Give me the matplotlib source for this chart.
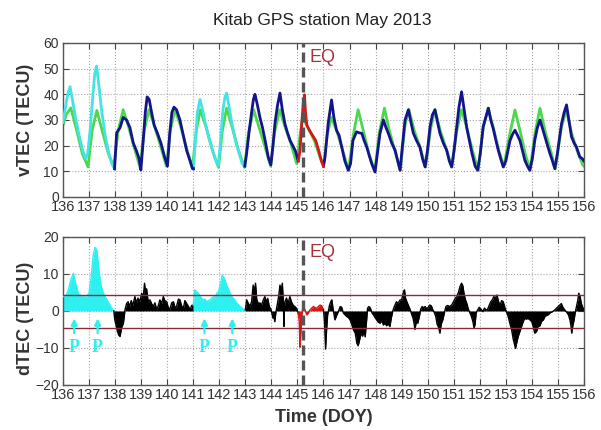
import matplotlib
matplotlib.use("Agg")
import matplotlib.pyplot as plt
import numpy as np

plt.rcParams['font.family'] = ['Liberation Sans', 'DejaVu Sans']

title = "Kitab GPS station May 2013"
days = list(range(136, 157))
eq_day = 145.22

# ---------------- vTEC (top) ----------------
cyan1_t = [136.00, 136.08, 136.18, 136.27, 136.36, 136.48, 136.62, 136.76, 136.87, 136.95, 137.05, 137.15, 137.22, 137.29, 137.36, 137.48, 137.62, 137.76, 137.88, 137.98]
cyan1_v = [29, 34, 40, 43, 38, 31, 24, 18, 15, 17, 27, 40, 48, 51, 45, 34, 24, 17, 13, 11]

blue1_t = [137.98, 138.06, 138.19, 138.31, 138.44, 138.57, 138.70, 138.82, 138.92, 138.99, 139.08, 139.16, 139.23, 139.31, 139.40, 139.50, 139.62, 139.76, 139.89, 140.01, 140.10, 140.18, 140.26, 140.36, 140.49, 140.62, 140.75, 140.88, 140.97, 141.01]
blue1_v = [11, 25, 27, 31, 30, 27, 21, 18, 15, 10.5, 22, 33, 39, 38, 33, 28, 25, 21, 16, 12, 25, 33, 35, 34, 30, 24, 18, 14, 11, 11]

cyan2_t = [141.01, 141.08, 141.16, 141.26, 141.36, 141.48, 141.60, 141.72, 141.84, 141.96, 142.05, 142.14, 142.22, 142.28, 142.36, 142.48, 142.62, 142.76, 142.88, 142.98]
cyan2_v = [11, 22, 33, 38, 34, 28, 23, 19, 15, 12, 22, 34, 39, 40.5, 36, 29, 22, 17, 13, 12]

blue2_t = [142.98, 143.05, 143.14, 143.24, 143.31, 143.37, 143.46, 143.56, 143.66, 143.76, 143.88, 143.98, 144.06, 144.14, 144.24, 144.33, 144.42, 144.52, 144.62, 144.72, 144.82, 144.92, 145.03]
blue2_v = [12, 17, 25, 33, 38, 40, 36, 31, 27, 22, 15.5, 12.5, 20, 29, 36, 40.5, 34, 28.5, 25, 22, 20, 18, 14]

red_t = [145.03, 145.10, 145.16, 145.22, 145.27, 145.31, 145.36, 145.46, 145.58, 145.70, 145.82, 145.92, 146.0]
red_v = [14, 18, 28, 36, 39.8, 33, 28, 26, 24, 22, 18, 14, 12]

blue3_t = [146.0, 146.06, 146.18, 146.31, 146.40, 146.50, 146.60, 146.70, 146.82, 146.95,
           147.04, 147.13, 147.27, 147.37, 147.47, 147.56, 147.66, 147.76, 147.85, 147.98,
           148.07, 148.17, 148.30, 148.40, 148.49, 148.62, 148.75, 148.85, 148.94,
           149.03, 149.13, 149.26, 149.36, 149.45, 149.57, 149.70, 149.80, 149.90,
           149.99, 150.09, 150.18, 150.28, 150.38, 150.47, 150.60, 150.73, 150.83, 150.92,
           151.01, 151.11, 151.20, 151.30, 151.40, 151.50, 151.60, 151.70, 151.82, 151.92,
           152.02, 152.13, 152.23, 152.33, 152.42, 152.52, 152.62, 152.71, 152.80, 152.90,
           153.00, 153.16, 153.26, 153.35, 153.45, 153.54, 153.64, 153.73, 153.83, 153.92,
           154.02, 154.11, 154.21, 154.31, 154.40, 154.50, 154.60, 154.69, 154.79, 154.88,
           154.98, 155.06, 155.14, 155.24, 155.33, 155.42, 155.52, 155.62, 155.71, 155.84, 155.93, 156.0]
blue3_v = [12, 15.6, 28.7, 37.8, 31, 26, 24, 19.5, 14, 10.4,
           13, 22, 25.4, 25, 24.8, 22, 19.5, 16, 13, 9.7,
           17, 24.8, 30, 27, 24.8, 21, 18.2, 14, 10.4,
           20, 30, 34, 29, 24.8, 22, 19.5, 15, 11.7,
           18, 27.4, 32, 34, 29, 24.8, 21, 18.2, 14, 11.7,
           18, 27, 35, 41, 34, 27, 22, 17, 12, 10.4,
           17, 27.4, 31, 34.6, 30, 26.5, 22, 18.2, 15, 11.7,
           14, 22, 24.5, 26, 24, 22, 18, 14.3, 12, 10.4,
           15, 22, 27, 30, 27, 23.5, 20, 17, 14, 11,
           17, 23, 28.7, 33, 35.9, 30, 23.5, 21, 19.5, 15.6, 15, 14]

green_t = [136.00, 136.12, 136.30, 136.50, 136.74, 136.96,
           137.12, 137.30, 137.50, 137.74, 137.95,
           138.12, 138.31, 138.50, 138.74, 138.96,
           139.12, 139.30, 139.50, 139.74, 139.97,
           140.12, 140.30, 140.50, 140.74, 140.97,
           141.12, 141.27, 141.50, 141.74, 141.97,
           142.12, 142.28, 142.50, 142.74, 142.97,
           143.12, 143.32, 143.50, 143.74, 143.97,
           144.12, 144.32, 144.50, 144.74, 144.97,
           145.10, 145.20, 145.40, 145.65, 145.85, 146.00,
           146.14, 146.30, 146.50, 146.74, 146.96,
           147.14, 147.33, 147.50, 147.74, 147.97,
           148.14, 148.34, 148.50, 148.74, 148.95,
           149.13, 149.28, 149.48, 149.72, 149.92,
           150.12, 150.28, 150.48, 150.72, 150.93,
           151.12, 151.30, 151.50, 151.72, 151.94,
           152.13, 152.32, 152.52, 152.72, 152.92,
           153.14, 153.35, 153.54, 153.74, 153.93,
           154.12, 154.31, 154.50, 154.72, 154.90,
           155.13, 155.32, 155.52, 155.74, 155.95, 156.00]
green_v = [28, 32, 34.7, 27, 17, 11.7,
           26, 33.7, 26, 17, 11.7,
           26, 34, 28, 19, 11.5,
           26, 34, 28, 20, 12,
           26, 34, 28, 19, 11.5,
           26, 34, 27, 18, 11.5,
           26, 34.6, 27, 18, 11.5,
           25, 34, 28, 20, 12,
           25, 34, 28, 21, 13,
           24, 31, 27, 22, 16, 12,
           24, 31, 26, 18, 10.5,
           24, 34, 27, 17, 10,
           25, 34.6, 27, 18, 10.5,
           28, 34, 26, 19, 11.7,
           27, 34, 26, 18.5, 11.7,
           26, 34, 27, 18, 10.5,
           27, 34.6, 27, 18.5, 11.7,
           24, 33.9, 26, 17, 10.5,
           25, 34.6, 26, 18, 11,
           27, 34, 25, 18, 12.5, 12]

# ---------------- dTEC (bottom) ----------------
dcyan1_t = [136.00, 136.1, 136.2, 136.3, 136.4, 136.5, 136.6, 136.7, 136.8, 136.9, 137.0, 137.08, 137.16, 137.23, 137.30, 137.38, 137.46, 137.55, 137.65, 137.75, 137.85, 137.95]
dcyan1_v = [3.9, 4.0, 5.5, 8.5, 10.2, 7, 4.5, 4.2, 3.9, 3.6, 5, 9, 15, 17.2, 16.5, 11, 7, 4.8, 3.5, 2.2, 1, 0]

dblack1_t = [137.95, 137.99, 138.04, 138.09, 138.14, 138.19, 138.25, 138.32, 138.38, 138.44, 138.50, 138.56, 138.62, 138.68, 138.76, 138.82, 138.88, 138.95, 139.02, 139.08, 139.13, 139.17, 139.21, 139.27, 139.34, 139.40, 139.47, 139.53, 139.60, 139.66, 139.72, 139.79, 139.85, 139.91, 139.98, 140.04, 140.10, 140.17, 140.24, 140.30, 140.36, 140.43, 140.49, 140.55, 140.62, 140.68, 140.75, 140.82, 140.88, 140.94, 141.0]
dblack1_v = [0, -2.4, -4, -5.5, -6.5, -6.9, -4.5, -3.3, 0.3, 2, 2.5, 1.2, 2.8, 1.5, 3.9, 2.2, 3.5, 2.5, 4.8, 3.5, 7.5, 5, 6, 2.5, 3, 2, 1.2, 2.2, 0.3, 1.5, 3, 2, 3.9, 2.8, 2.5, 1, 0.3, 2.2, 2.5, 1, 1.2, 3.2, 3, 1.5, 0.7, 2.8, 2, 1.2, 0.3, 1.5, 1.6]

dcyan2_t = [141.0, 141.06, 141.13, 141.2, 141.26, 141.32, 141.38, 141.45, 141.51, 141.58, 141.64, 141.71, 141.78, 141.84, 141.90, 141.96, 142.02, 142.07, 142.11, 142.16, 142.22, 142.28, 142.34, 142.40, 142.47, 142.53, 142.60, 142.66, 142.72, 142.80, 142.87, 142.95, 143.0]
dcyan2_v = [1.6, 5.7, 5.2, 4.8, 3.9, 3.5, 3, 3.2, 2.5, 2.8, 3, 3.5, 3.9, 3.5, 4.8, 5, 6.6, 8, 9.7, 9.2, 8.4, 7, 6.1, 5, 4, 3.5, 3, 2.2, 1.8, 1.2, 0.8, 0.3, 0.3]

dblack2_t = [143.0, 143.05, 143.12, 143.18, 143.24, 143.30, 143.35, 143.39, 143.44, 143.50, 143.56, 143.62, 143.68, 143.75, 143.80, 143.86, 143.92, 143.98, 144.03, 144.07, 144.10, 144.13, 144.17, 144.22, 144.28, 144.33, 144.38, 144.42, 144.46, 144.48, 144.50, 144.52, 144.58, 144.64, 144.71, 144.77, 144.84, 144.90, 144.97, 145.03]
dblack2_v = [0.3, 3, 2, 1.3, 2.5, 7, 5, 7.5, 3, 2, 2.2, 1.6, 2.8, 3.9, 2.5, 3.4, 1.2, 0.5, -1, -2, -1.5, -2.9, -0.5, 1.5, 4, 7, 5.5, 7.5, 2.5, -4.2, 1, 2.5, 3.5, 2, 3.9, 2.5, 1.5, 1.2, 0.7, -0.6]

dred_t = [145.03, 145.07, 145.10, 145.13, 145.16, 145.19, 145.23, 145.28, 145.36, 145.42, 145.48, 145.55, 145.61, 145.68, 145.74, 145.80, 145.87, 145.93, 146.0]
dred_v = [-0.6, -3, -9.8, -6, -2, 0.3, 1.2, 0.5, -1.1, -0.5, 0.3, 0.8, 1.2, 0.9, 0.7, 1.2, 1.6, 1.4, 0.3]

dblack3_t = [146.00, 146.04, 146.08, 146.12, 146.16, 146.23, 146.28, 146.32, 146.37, 146.44, 146.51, 146.58, 146.64, 146.70, 146.76, 146.82, 146.89, 146.96,
             147.02, 147.08, 147.15, 147.22, 147.28, 147.33, 147.38, 147.44, 147.50, 147.56, 147.60, 147.65, 147.69, 147.74, 147.80, 147.86, 147.92, 147.98,
             148.04, 148.10, 148.17, 148.24, 148.30, 148.36, 148.42, 148.48, 148.55, 148.60, 148.66, 148.72, 148.80, 148.86, 148.94,
             149.00, 149.07, 149.11, 149.15, 149.20, 149.26, 149.32, 149.38, 149.44, 149.48, 149.51, 149.56, 149.62, 149.68, 149.73, 149.79, 149.85, 149.90, 149.96,
             150.02, 150.08, 150.14, 150.20, 150.26, 150.31, 150.36, 150.42, 150.47, 150.52, 150.58, 150.64, 150.70, 150.76, 150.84, 150.92, 150.99,
             151.06, 151.12, 151.18, 151.24, 151.30, 151.35, 151.40, 151.45, 151.50, 151.56, 151.62, 151.68, 151.74, 151.78, 151.82, 151.86, 151.92, 151.98,
             152.05, 152.12, 152.18, 152.24, 152.30, 152.36, 152.42, 152.48, 152.54, 152.60, 152.66, 152.72, 152.78, 152.84, 152.90, 152.96,
             153.03, 153.09, 153.16, 153.22, 153.28, 153.33, 153.37, 153.42, 153.47, 153.54, 153.60, 153.66, 153.72, 153.78, 153.85, 153.92, 153.99,
             154.05, 154.11, 154.18, 154.24, 154.31, 154.37, 154.44, 154.50, 154.56, 154.63, 154.70, 154.76, 154.83, 154.88, 154.95,
             155.01, 155.07, 155.13, 155.19, 155.26, 155.33, 155.40, 155.46, 155.50, 155.53, 155.57, 155.62, 155.66, 155.71, 155.76, 155.80, 155.85, 155.90, 155.95, 156.00]
dblack3_v = [0.3, -3, -10.3, -5, -1, 1.5, 2.5, 3, 0.5, -2.4, -1.1, 0, 1.2, 1.0, -0.5, -1, -1.5, -1.8,
             -2.4, -3.5, -5.1, -6, -8.7, -9.4, -8, -6, -6.8, -5.5, -7, -3, 0.7, 1.2, 0.8, -0.5, -1.1, -1.8,
             -2.4, -3, -3.3, -2.6, -3.8, -3.2, -4, -3.5, -4.2, -2, 0, 1.2, 2.5, 2, 3,
             3, 5.2, 5.7, 3.5, 2.5, 1.5, 0.5, -0.8, -2, -3.5, -5, -3, -3.3, -1.5, 0.5, 1.2, 0.8, 1.2, 0.6,
             1, 1.6, 1.4, 0.3, -0.5, -1.5, -3.5, -4.5, -6, -3.5, -2.4, -0.5, 1.2, 1.5, 1.2, 1.6, 2.5,
             3.5, 3.9, 5, 6.6, 7.5, 6.8, 4.5, 3, 2.1, 0.5, -0.5, -1.5, -3, -4.7, -3.5, -0.5, 0.3, 1.0,
             0.5, -0.2, 0.8, 0.2, 0.5, 1.5, 2.5, 3, 3.9, 3.5, 4.3, 2.5, 1.6, 2.8, 2.5, 1,
             -0.4, -1.5, -3.5, -5, -7.5, -9, -10.1, -8.5, -7, -5.5, -4.2, -3, -2, -2.2, -2, -2.4, -2.8,
             -4.2, -6, -5.5, -4.2, -4, -2.8, -2.4, -1.5, -1.2, -1, -0.5, -0.3, 0, 0.3, 0.8,
             1.2, 1.6, 2, 1, 0.3, -0.3, -1, -2.4, -4, -6, -4, -2.4, -0.5, 1.2, 2.8, 4.8, 3.9, 2, 1, 0.3]

upper_bound = 4.3
lower_bound = -4.7
p_days = [136.43, 137.33, 141.43, 142.5]

# ---------------- styling ----------------
C_CYAN = '#45e3e3'
C_CYAN_FILL = '#2ff0f0'
C_GREEN = '#4cd84c'
C_BLUE = '#14148c'
C_RED = '#d41818'
C_EQ = '#a8323c'
C_BOUND = '#8c2a34'
C_GRID = '#a8a8a8'
C_TXT = '#333333'

fig = plt.figure(figsize=(6.01, 4.30), dpi=100)
ax1 = fig.add_axes([0.1048, 0.5419, 0.8669, 0.3581])
ax2 = fig.add_axes([0.1048, 0.1047, 0.8669, 0.3442])

for ax in (ax1, ax2):
    ax.set_xlim(136, 156)
    ax.set_xticks(days)
    ax.set_xticklabels([str(d) for d in days], fontsize=10.5, color=C_TXT)
    ax.tick_params(axis='both', direction='in', length=4, width=0.8, top=True, right=True,
                   colors='#444444', labelcolor=C_TXT)
    ax.tick_params(axis='x', pad=2)
    ax.tick_params(axis='y', pad=3, labelsize=10)
    ax.grid(True, linestyle=':', color=C_GRID, linewidth=0.8)
    ax.set_axisbelow(True)
    for s in ax.spines.values():
        s.set_color('#555555')
        s.set_linewidth(1.0)

# top panel
ax1.set_ylim(0, 60)
ax1.set_yticks([0, 10, 20, 30, 40, 50, 60])
ax1.plot(green_t, green_v, color=C_GREEN, lw=2.0, zorder=2)
ax1.plot(cyan1_t, cyan1_v, color=C_CYAN, lw=2.0, zorder=3)
ax1.plot(cyan2_t, cyan2_v, color=C_CYAN, lw=2.0, zorder=3)
ax1.plot(blue1_t, blue1_v, color=C_BLUE, lw=2.0, zorder=3)
ax1.plot(blue2_t, blue2_v, color=C_BLUE, lw=2.0, zorder=3)
ax1.plot(blue3_t, blue3_v, color=C_BLUE, lw=2.0, zorder=3)
ax1.plot(red_t, red_v, color=C_RED, lw=2.0, zorder=3)
ax1.axvline(eq_day, color='#555555', lw=2.4, ls=(0, (3, 1.5)), zorder=5)
ax1.text(145.48, 54.5, 'EQ', color=C_EQ, fontsize=13, va='center', ha='left', zorder=6)
ax1.set_ylabel('vTEC (TECU)', fontsize=13, fontweight='bold', color=C_TXT)
ax1.yaxis.set_label_coords(-0.056, 0.5)

# bottom panel
ax2.set_ylim(-20, 20)
ax2.set_yticks([-20, -10, 0, 10, 20])
segs = [(dcyan1_t, dcyan1_v, C_CYAN_FILL), (dblack1_t, dblack1_v, 'black'),
        (dcyan2_t, dcyan2_v, C_CYAN_FILL), (dblack2_t, dblack2_v, 'black'),
        (dred_t, dred_v, C_RED), (dblack3_t, dblack3_v, 'black')]
for t, v, c in segs:
    ax2.fill_between(t, 0, v, color=c, lw=0, zorder=2)
    ax2.plot(t, v, color=c, lw=1.0, zorder=3)
ax2.axhline(upper_bound, color=C_BOUND, lw=1.0, zorder=4)
ax2.axhline(lower_bound, color=C_BOUND, lw=1.0, zorder=4)
ax2.axvline(eq_day, color='#555555', lw=2.4, ls=(0, (3, 1.5)), zorder=5)
ax2.text(145.48, 15.7, 'EQ', color=C_EQ, fontsize=13, va='center', ha='left', zorder=6)
for pdx in p_days:
    ax2.annotate('', xy=(pdx, -2.0), xytext=(pdx, -6.0),
                 arrowprops=dict(arrowstyle='-|>', color=C_CYAN_FILL, lw=1.6, mutation_scale=9,
                                 shrinkA=0, shrinkB=0),
                 zorder=6)
    ax2.text(pdx, -9.8, 'P', color=C_CYAN_FILL, fontsize=13, fontweight='bold',
             family=['Liberation Serif', 'DejaVu Serif'], ha='center', va='center', zorder=6)
ax2.set_ylabel('dTEC (TECU)', fontsize=13, fontweight='bold', color=C_TXT)
ax2.yaxis.set_label_coords(-0.056, 0.45)
ax2.set_xlabel('Time (DOY)', fontsize=13, fontweight='bold', color=C_TXT)
ax2.xaxis.set_label_coords(0.5, -0.165)

fig.text(0.537, 0.953, title, ha='center', va='center', fontsize=12.5, color='#222222')

fig.savefig('out.png', dpi=100)
